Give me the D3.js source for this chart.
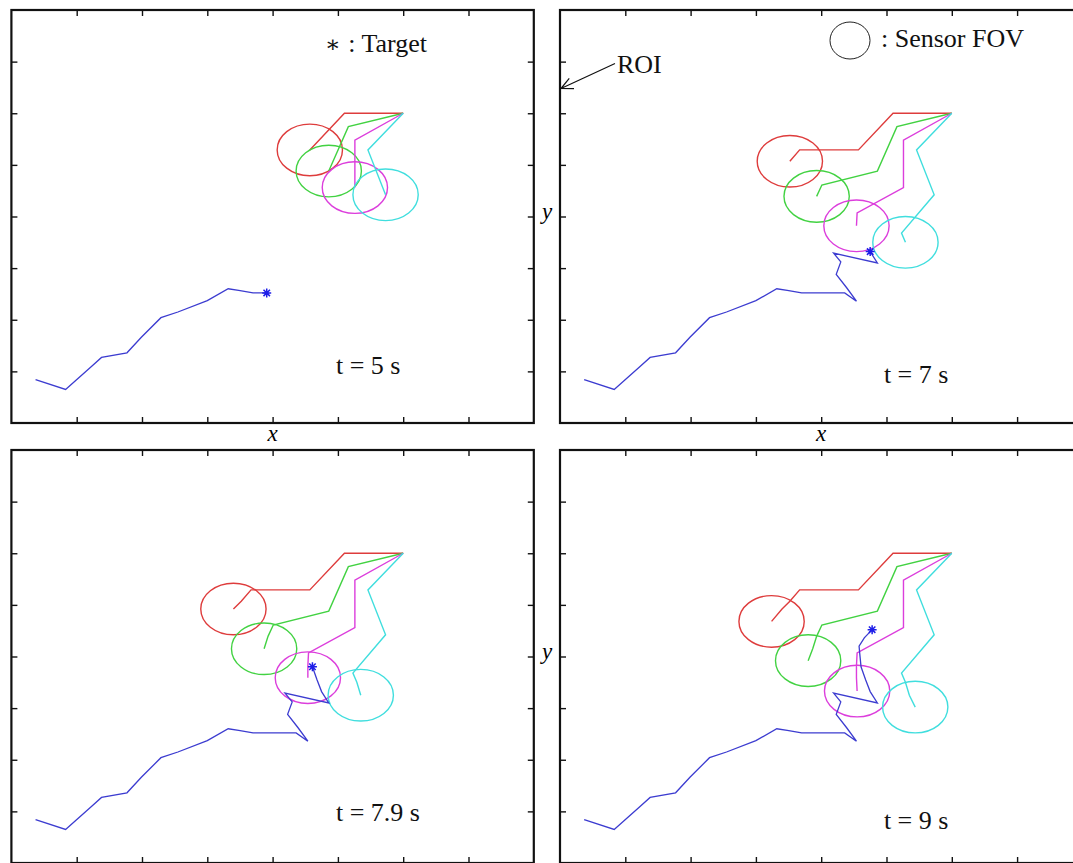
<!DOCTYPE html>
<html>
<head>
<meta charset="utf-8">
<script src="https://cdn.jsdelivr.net/npm/d3@7"></script>
<style>
  body { margin: 0; background: #fff; }
  svg { display: block; font-family: "Liberation Serif", "Times New Roman", serif; }
</style>
</head>
<body>
<div id="chart"></div>
<script>
// Data (x, y in ROI units)

const axisDomain = [0, 8];
const tickValues = [1, 2, 3, 4, 5, 6, 7];
const timeLabels = ["t = 5 s", "t = 7 s", "t = 7.9 s", "t = 9 s"];

const redPath = [[6, 6], [5.1, 6], [4.57, 5.29], [3.67, 5.29], [3.52, 5.07], [3.40, 4.92], [3.24, 4.68]];
const greenPath = [[6, 6], [5.16, 5.74], [4.86, 4.88], [4.01, 4.61], [3.93, 4.39], [3.87, 4.15], [3.80, 3.92]];
const magentaPath = [[6, 6], [5.26, 5.48], [5.26, 4.56], [4.55, 4.07], [4.54, 3.82], [4.54, 3.59], [4.55, 3.33]];
const cyanPath = [[6, 6], [5.46, 5.29], [5.73, 4.42], [5.23, 3.68], [5.29, 3.50], [5.35, 3.25], [5.44, 3.02]];

const targetPath = [
  [0.37, 0.84], [0.83, 0.65], [1.23, 1.10], [1.38, 1.27], [1.77, 1.36], [1.99, 1.66],
  [2.29, 2.04], [2.55, 2.15], [3.00, 2.37], [3.32, 2.60], [3.48, 2.57], [3.70, 2.52],
  [3.91, 2.52], [4.36, 2.52], [4.54, 2.36], [4.39, 2.62], [4.23, 2.88], [4.30, 3.12],
  [4.19, 3.29], [4.86, 3.10], [4.75, 3.32], [4.68, 3.55], [4.61, 3.80], [4.59, 4.06],
  [4.58, 4.20], [4.66, 4.36], [4.78, 4.52]
];

// how many recorded points are visible at each snapshot
const sensorPointsShown = [3, 5, 6, 7];
const targetPointsShown = [13, 21, 23, 27];

const fovRadius = 0.5;

(function () {
  document.addEventListener('DOMContentLoaded', function () {

    // Config

    const width = 1073;
    const height = 863;
    const panelW = 522.4;
    const panelH = 413;

    const panels = [
      { left: 11.4, top: 10, label: [4.97, 0.95] },
      { left: 560, top: 10, label: [4.96, 0.77] },
      { left: 11.4, top: 450, label: [4.97, 0.82] },
      { left: 560, top: 450, label: [4.96, 0.66] }
    ];

    const sensors = [
      { path: redPath, color: "#de3c3c" },
      { path: greenPath, color: "#42d242" },
      { path: magentaPath, color: "#dc3edc" },
      { path: cyanPath, color: "#40dede" }
    ];

    const targetColor = "#3c3cd0";
    const starColor = "#1e1ee8";

    const svg = d3.select("#chart")
      .append("svg")
      .attr("width", width)
      .attr("height", height)
      .attr("viewBox", [0, 0, width, height]);

    const x = d3.scaleLinear().domain(axisDomain).range([0, panelW]);
    const y = d3.scaleLinear().domain(axisDomain).range([panelH, 0]);

    const line = d3.line().x(d => x(d[0])).y(d => y(d[1]));

    panels.forEach((p, i) => {
      const g = svg.append("g")
        .attr("transform", `translate(${p.left},${p.top})`);

      // inward ticks on all four sides
      const axes = [
        { axis: d3.axisBottom(x), t: `translate(0,${panelH})` },
        { axis: d3.axisTop(x), t: "translate(0,0)" },
        { axis: d3.axisLeft(y), t: "translate(0,0)" },
        { axis: d3.axisRight(y), t: `translate(${panelW},0)` }
      ];
      axes.forEach(a => {
        const ga = g.append("g")
          .attr("transform", a.t)
          .call(a.axis.tickValues(tickValues).tickSize(-6).tickSizeOuter(0).tickFormat(""));
        ga.select(".domain").remove();
        ga.selectAll(".tick line").attr("stroke", "#111").attr("stroke-width", 1.4);
      });

      g.append("rect")
        .attr("width", panelW)
        .attr("height", panelH)
        .attr("fill", "none")
        .attr("stroke", "#111")
        .attr("stroke-width", 2.2);

      // sensors and their field of view
      sensors.forEach(s => {
        const pts = s.path.slice(0, sensorPointsShown[i]);
        const end = pts[pts.length - 1];

        g.append("path")
          .datum(pts)
          .attr("d", line)
          .attr("fill", "none")
          .attr("stroke", s.color)
          .attr("stroke-width", 1.4);

        g.append("ellipse")
          .attr("cx", x(end[0]))
          .attr("cy", y(end[1]))
          .attr("rx", x(fovRadius) - x(0))
          .attr("ry", y(0) - y(fovRadius))
          .attr("fill", "none")
          .attr("stroke", s.color)
          .attr("stroke-width", 1.4);
      });

      // target
      const tpts = targetPath.slice(0, targetPointsShown[i]);
      const tEnd = tpts[tpts.length - 1];

      g.append("path")
        .datum(tpts)
        .attr("d", line)
        .attr("fill", "none")
        .attr("stroke", targetColor)
        .attr("stroke-width", 1.3);

      const sx = x(tEnd[0]);
      const sy = y(tEnd[1]);
      const r = 4.5;
      const rd = r * 0.72;
      g.append("path")
        .attr("d", `M${sx - r},${sy}L${sx + r},${sy}M${sx},${sy - r}L${sx},${sy + r}` +
          `M${sx - rd},${sy - rd}L${sx + rd},${sy + rd}M${sx - rd},${sy + rd}L${sx + rd},${sy - rd}`)
        .attr("stroke", starColor)
        .attr("stroke-width", 1.5);

      g.append("text")
        .attr("x", x(p.label[0]))
        .attr("y", y(p.label[1]))
        .attr("font-size", 26)
        .attr("fill", "#111")
        .text(timeLabels[i]);
    });

    // axis names

    svg.selectAll("text.xname")
      .data([panels[0], panels[1]])
      .join("text")
      .attr("class", "xname")
      .attr("x", d => d.left + panelW / 2)
      .attr("y", 441)
      .attr("text-anchor", "middle")
      .attr("font-style", "italic")
      .attr("font-size", 23)
      .text("x");

    svg.selectAll("text.yname")
      .data([panels[1], panels[3]])
      .join("text")
      .attr("class", "yname")
      .attr("x", 547)
      .attr("y", d => d.top + panelH / 2 + 2)
      .attr("text-anchor", "middle")
      .attr("font-style", "italic")
      .attr("font-size", 23)
      .text("y");

    // legend notes

    const targetNote = svg.append("text")
      .attr("x", 325)
      .attr("y", 52)
      .attr("font-size", 26)
      .attr("fill", "#111");
    targetNote.append("tspan")
      .attr("font-size", 23)
      .attr("font-family", "DejaVu Serif, serif")
      .attr("dy", 0)
      .text("\u2217");
    targetNote.append("tspan")
      .attr("dx", 1)
      .text(" : Target");

    svg.append("ellipse")
      .attr("cx", 850)
      .attr("cy", 40.5)
      .attr("rx", 20)
      .attr("ry", 18.5)
      .attr("fill", "none")
      .attr("stroke", "#222")
      .attr("stroke-width", 1);

    svg.append("text")
      .attr("x", 881)
      .attr("y", 47)
      .attr("font-size", 26)
      .attr("fill", "#111")
      .text(": Sensor FOV");

    // ROI arrow
    const tip = [561, 88.5];
    const tail = [615, 63.5];
    const ang = Math.atan2(tail[1] - tip[1], tail[0] - tip[0]);
    const barb = 13;
    const spread = 0.45;
    svg.append("path")
      .attr("d", `M${tail[0]},${tail[1]}L${tip[0]},${tip[1]}` +
        `M${tip[0] + barb * Math.cos(ang - spread)},${tip[1] + barb * Math.sin(ang - spread)}L${tip[0]},${tip[1]}` +
        `L${tip[0] + barb * Math.cos(ang + spread)},${tip[1] + barb * Math.sin(ang + spread)}`)
      .attr("fill", "none")
      .attr("stroke", "#111")
      .attr("stroke-width", 1.2);

    svg.append("text")
      .attr("x", 617)
      .attr("y", 73)
      .attr("font-size", 26)
      .attr("fill", "#111")
      .text("ROI");

  });
})();
</script>
</body>
</html>
